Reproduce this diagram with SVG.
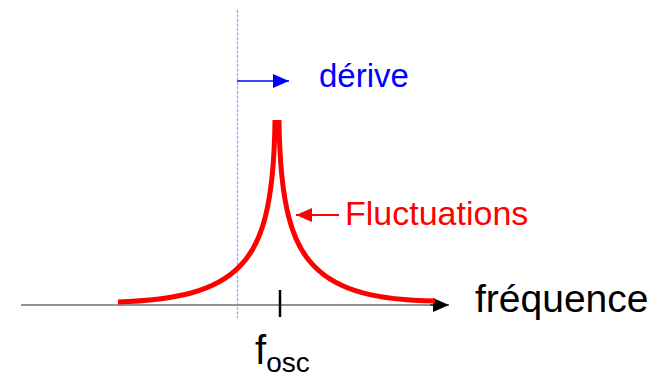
<svg xmlns="http://www.w3.org/2000/svg" width="663" height="379" viewBox="0 0 663 379">
<style>
text{font-family:"Liberation Sans",Arial,sans-serif}
.curve{fill:none;stroke:#ff0000;stroke-width:5;stroke-linecap:butt}
</style>
<defs>
<marker id="ab" markerWidth="16" markerHeight="14" refX="16" refY="7" orient="auto" markerUnits="userSpaceOnUse"><path d="M0,0 L16,7 L0,14 Z" fill="#000"/></marker>
<marker id="abl" markerWidth="16" markerHeight="14" refX="16" refY="7" orient="auto" markerUnits="userSpaceOnUse"><path d="M0,0 L16,7 L0,14 Z" fill="#0000ff"/></marker>
<marker id="ar" markerWidth="16" markerHeight="14" refX="16" refY="7" orient="auto" markerUnits="userSpaceOnUse"><path d="M0,0 L16,7 L0,14 Z" fill="#ff0000"/></marker>
</defs>
<rect width="663" height="379" fill="#fff"/>
<g id="drift-line">
<line x1="237.5" y1="10" x2="237.5" y2="318" stroke="#a0a0ff" stroke-width="1.3" stroke-dasharray="3,1.5"/>
</g>
<g id="axis">
<line x1="21" y1="305" x2="433" y2="305" stroke="#707070" stroke-width="1.5"/>
<line x1="430" y1="305" x2="449" y2="305" stroke="#000" stroke-width="1" marker-end="url(#ab)"/>
<line x1="280" y1="290" x2="280" y2="317" stroke="#000" stroke-width="2.5"/>
</g>
<g id="spectrum">
<path class="curve" d="M118,302 C175,300 215,292 240,266 C262,244 274,205 275,120"/>
<path class="curve" d="M279,120 C280,205 292,244 314,266 C339,292 379,300 435,301"/>
</g>
<g id="connectors">
<line x1="237" y1="81" x2="289" y2="81" stroke="#0000ff" stroke-width="1.3" marker-end="url(#abl)"/>
<line x1="339" y1="215" x2="296" y2="215" stroke="#ff0000" stroke-width="2" marker-end="url(#ar)"/>
</g>
<g id="labels">
<text x="319" y="87" font-size="33" fill="#0000ff">dérive</text>
<text x="345" y="225" font-size="34" fill="#ff0000">Fluctuations</text>
<text x="475" y="312" font-size="39" fill="#000">fréquence</text>
<text x="255" y="364" font-size="40" fill="#000">f<tspan font-size="28" dy="8">osc</tspan></text>
</g>
</svg>
